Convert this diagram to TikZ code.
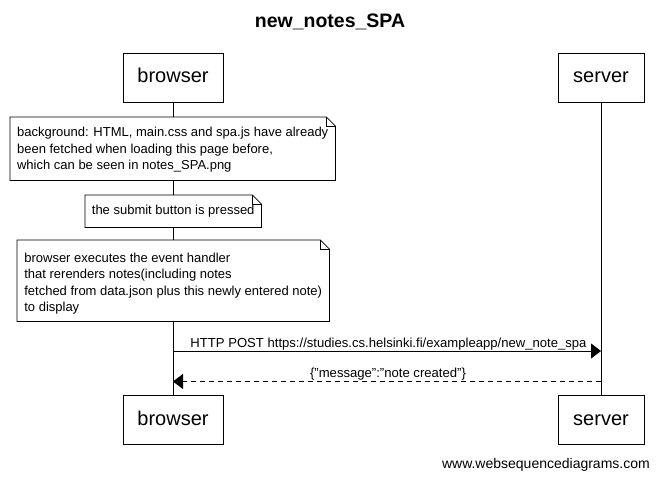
\documentclass[tikz,border=0pt]{standalone}
\usepackage{fontspec}
\setmainfont{Liberation Sans}
\usetikzlibrary{arrows.meta}
\begin{document}
\begin{tikzpicture}[x=1pt,y=-1pt,
  actor/.style={draw=black,fill=white,line width=0.8pt,minimum width=#1,minimum height=49pt,inner sep=0pt,text height=14.5pt,text depth=4.2pt,font=\fontsize{20}{24}\selectfont},
  notebox/.style={anchor=north west,minimum width=#1,inner xsep=6.5pt,inner ysep=0pt,align=left,font=\fontsize{13}{16.5}\selectfont},
  msg/.style={font=\fontsize{13.1}{15}\selectfont,inner sep=0pt},
  life/.style={line width=0.8pt},
  arr/.style={line width=0.8pt,-{Triangle[length=10pt,width=15pt]}}
]
\useasboundingbox (0,0) rectangle (659,479);
\fill[white] (0,0) rectangle (659,479);
\node[font=\bfseries\fontsize{19.5}{22}\selectfont] (title) at (330,22) {new\_notes\_SPA};
\node[actor=100pt] (bt) at (173,77.5) {browser};
\node[actor=86pt] (st) at (601,77.5) {server};
\node[actor=100pt] (bb) at (173,420) {browser};
\node[actor=86pt] (sb) at (601,420) {server};
\draw[life] (bt.south) -- (bb.north);
\draw[life] (st.south) -- (sb.north);
% notes
\newcommand{\drawnote}[1]{%
  \draw[line width=0.8pt,fill=white] (#1.north west) -- ([xshift=-9pt]#1.north east) -- ([yshift=-9pt]#1.north east) -- (#1.south east) -- (#1.south west) -- cycle;
  \draw[line width=0.5pt] ([xshift=-9pt]#1.north east) -- ([xshift=-9pt,yshift=-9pt]#1.north east) -- ([yshift=-9pt]#1.north east);}
\node[notebox=325pt,minimum height=63pt] (n1) at (10,117) {};
\drawnote{n1}
\node[notebox=325pt,minimum height=63pt] at ([yshift=-1pt]n1.north west) {background: HTML, main.css and spa.js have already\\been fetched when loading this page before,\\which can be seen in notes\_SPA.png};
\node[notebox=176pt,minimum height=32pt] (n2) at (85,195) {};
\drawnote{n2}
\node[notebox=176pt,minimum height=32pt] at (n2.north west) {the submit button is pressed};
\node[notebox=312pt,minimum height=81pt] (n3) at (17,240) {};
\drawnote{n3}
\node[notebox=312pt,minimum height=81pt] at ([yshift=-3pt]n3.north west) {browser executes the event handler\\that rerenders notes(including notes\\fetched from data.json plus this newly entered note)\\to display};
% messages
\coordinate (m1s) at (173,351);
\coordinate (m1e) at (601,351);
\coordinate (m2s) at (601,381.5);
\coordinate (m2e) at (173,381.5);
\draw[arr] (m1s) -- (m1e);
\node[msg,anchor=base] (l1) at (388.5,347) {HTTP POST https://studies.cs.helsinki.fi/exampleapp/new\_note\_spa};
\draw[arr,dash pattern=on 5pt off 4pt] (m2s) -- (m2e);
\node[msg,anchor=base] (l2) at (388,377) {\{"message":"note created"\}};
\node[font=\fontsize{14}{16}\selectfont,anchor=base east,inner sep=0pt] (foot) at (650,468) {www.websequencediagrams.com};
\end{tikzpicture}
\end{document}
